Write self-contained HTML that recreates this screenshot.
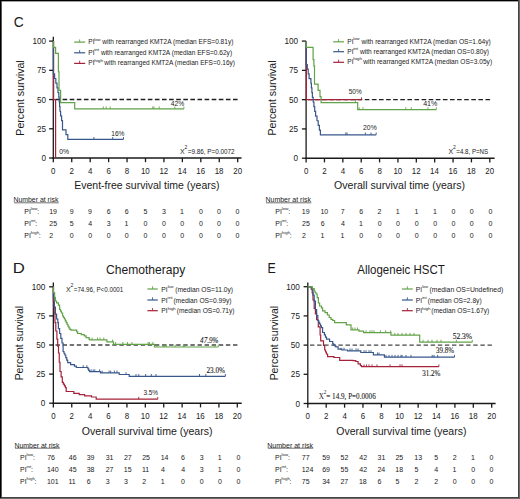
<!DOCTYPE html><html><head><meta charset="utf-8"><style>html,body{margin:0;padding:0;background:#fff;}svg{display:block;}</style></head><body>
<svg width="520" height="499" viewBox="0 0 520 499">
<rect x="0" y="0" width="520" height="499" fill="#fff"/>
<text x="13.70" y="26.75" font-family='"Liberation Sans", sans-serif' font-size="15.40" fill="#1a1a1a" textLength="9.92" lengthAdjust="spacingAndGlyphs" >C</text>
<g transform="rotate(-90)">
<text x="-135.67" y="23.80" font-family='"Liberation Sans", sans-serif' font-size="11.20" fill="#1a1a1a" textLength="75.38" lengthAdjust="spacingAndGlyphs" >Percent survival</text>
</g>
<line x1="53.30" y1="36.80" x2="53.30" y2="158.65" stroke="#1a1a1a" stroke-width="1.3" />
<line x1="52.65" y1="158.00" x2="241.50" y2="158.00" stroke="#1a1a1a" stroke-width="1.5" />
<line x1="49.10" y1="158.00" x2="53.30" y2="158.00" stroke="#1a1a1a" stroke-width="1.3" />
<text x="41.48" y="161.04" font-family='"Liberation Sans", sans-serif' font-size="8.60" fill="#1a1a1a" textLength="4.54" lengthAdjust="spacingAndGlyphs">0</text>
<line x1="49.10" y1="128.78" x2="53.30" y2="128.78" stroke="#1a1a1a" stroke-width="1.3" />
<text x="36.96" y="131.82" font-family='"Liberation Sans", sans-serif' font-size="8.60" fill="#1a1a1a" textLength="9.09" lengthAdjust="spacingAndGlyphs">25</text>
<line x1="49.10" y1="99.55" x2="53.30" y2="99.55" stroke="#1a1a1a" stroke-width="1.3" />
<text x="36.93" y="102.59" font-family='"Liberation Sans", sans-serif' font-size="8.60" fill="#1a1a1a" textLength="9.09" lengthAdjust="spacingAndGlyphs">50</text>
<line x1="49.10" y1="70.33" x2="53.30" y2="70.33" stroke="#1a1a1a" stroke-width="1.3" />
<text x="36.96" y="73.37" font-family='"Liberation Sans", sans-serif' font-size="8.60" fill="#1a1a1a" textLength="9.09" lengthAdjust="spacingAndGlyphs">75</text>
<line x1="49.10" y1="41.10" x2="53.30" y2="41.10" stroke="#1a1a1a" stroke-width="1.3" />
<text x="32.39" y="44.14" font-family='"Liberation Sans", sans-serif' font-size="8.60" fill="#1a1a1a" textLength="13.63" lengthAdjust="spacingAndGlyphs">100</text>
<line x1="53.30" y1="158.00" x2="53.30" y2="162.20" stroke="#1a1a1a" stroke-width="1.3" />
<text x="51.10" y="173.50" font-family='"Liberation Sans", sans-serif' font-size="8.60" fill="#1a1a1a" textLength="4.40" lengthAdjust="spacingAndGlyphs">0</text>
<line x1="71.74" y1="158.00" x2="71.74" y2="162.20" stroke="#1a1a1a" stroke-width="1.3" />
<text x="69.54" y="173.50" font-family='"Liberation Sans", sans-serif' font-size="8.60" fill="#1a1a1a" textLength="4.40" lengthAdjust="spacingAndGlyphs">2</text>
<line x1="90.18" y1="158.00" x2="90.18" y2="162.20" stroke="#1a1a1a" stroke-width="1.3" />
<text x="88.00" y="173.50" font-family='"Liberation Sans", sans-serif' font-size="8.60" fill="#1a1a1a" textLength="4.40" lengthAdjust="spacingAndGlyphs">4</text>
<line x1="108.62" y1="158.00" x2="108.62" y2="162.20" stroke="#1a1a1a" stroke-width="1.3" />
<text x="106.39" y="173.50" font-family='"Liberation Sans", sans-serif' font-size="8.60" fill="#1a1a1a" textLength="4.40" lengthAdjust="spacingAndGlyphs">6</text>
<line x1="127.06" y1="158.00" x2="127.06" y2="162.20" stroke="#1a1a1a" stroke-width="1.3" />
<text x="124.86" y="173.50" font-family='"Liberation Sans", sans-serif' font-size="8.60" fill="#1a1a1a" textLength="4.40" lengthAdjust="spacingAndGlyphs">8</text>
<line x1="145.50" y1="158.00" x2="145.50" y2="162.20" stroke="#1a1a1a" stroke-width="1.3" />
<text x="140.95" y="173.50" font-family='"Liberation Sans", sans-serif' font-size="8.60" fill="#1a1a1a" textLength="8.80" lengthAdjust="spacingAndGlyphs">10</text>
<line x1="163.94" y1="158.00" x2="163.94" y2="162.20" stroke="#1a1a1a" stroke-width="1.3" />
<text x="159.44" y="173.50" font-family='"Liberation Sans", sans-serif' font-size="8.60" fill="#1a1a1a" textLength="8.80" lengthAdjust="spacingAndGlyphs">12</text>
<line x1="182.38" y1="158.00" x2="182.38" y2="162.20" stroke="#1a1a1a" stroke-width="1.3" />
<text x="177.79" y="173.50" font-family='"Liberation Sans", sans-serif' font-size="8.60" fill="#1a1a1a" textLength="8.80" lengthAdjust="spacingAndGlyphs">14</text>
<line x1="200.82" y1="158.00" x2="200.82" y2="162.20" stroke="#1a1a1a" stroke-width="1.3" />
<text x="196.29" y="173.50" font-family='"Liberation Sans", sans-serif' font-size="8.60" fill="#1a1a1a" textLength="8.80" lengthAdjust="spacingAndGlyphs">16</text>
<line x1="219.26" y1="158.00" x2="219.26" y2="162.20" stroke="#1a1a1a" stroke-width="1.3" />
<text x="214.73" y="173.50" font-family='"Liberation Sans", sans-serif' font-size="8.60" fill="#1a1a1a" textLength="8.80" lengthAdjust="spacingAndGlyphs">18</text>
<line x1="237.70" y1="158.00" x2="237.70" y2="162.20" stroke="#1a1a1a" stroke-width="1.3" />
<text x="233.26" y="173.50" font-family='"Liberation Sans", sans-serif' font-size="8.60" fill="#1a1a1a" textLength="8.80" lengthAdjust="spacingAndGlyphs">20</text>
<text x="74.24" y="189.20" font-family='"Liberation Sans", sans-serif' font-size="11.20" fill="#1a1a1a" textLength="145.31" lengthAdjust="spacingAndGlyphs" >Event-free survival time (years)</text>
<line x1="55.50" y1="99.55" x2="238.50" y2="99.55" stroke="#1e1e1e" stroke-width="1.4" stroke-dasharray="4.6 2.5"/>
<polyline points="53.60,41.10 53.60,99.55 55.60,99.55 55.60,158.00" fill="none" stroke="#a6213a" stroke-width="1.2" stroke-linejoin="miter" stroke-linecap="butt"/>
<polyline points="53.40,41.10 53.40,73.83 54.60,73.83 54.60,78.51 55.80,78.51 55.80,83.18 57.00,83.18 57.00,87.86 58.00,87.86 58.00,92.54 58.80,92.54 58.80,97.21 59.20,97.21 59.20,101.89 59.60,101.89 59.60,106.56 60.00,106.56 60.00,111.24 60.60,111.24 60.60,115.92 61.60,115.92 61.60,120.59 62.50,120.59 62.50,129.94 66.00,129.94 66.00,134.62 67.80,134.62 67.80,139.30 123.50,139.30" fill="none" stroke="#38578a" stroke-width="1.2" stroke-linejoin="miter" stroke-linecap="butt"/>
<line x1="93.90" y1="139.30" x2="93.90" y2="137.00" stroke="#38578a" stroke-width="0.9" />
<line x1="112.70" y1="139.30" x2="112.70" y2="137.00" stroke="#38578a" stroke-width="0.9" />
<line x1="123.50" y1="139.30" x2="123.50" y2="137.00" stroke="#38578a" stroke-width="0.9" />
<polyline points="53.50,41.10 53.50,47.30 55.60,47.30 55.60,53.37 58.40,53.37 58.40,71.84 59.00,71.84 59.00,90.31 60.60,90.31 60.60,102.59 74.70,102.59 74.70,108.79 183.90,108.79" fill="none" stroke="#62a248" stroke-width="1.2" stroke-linejoin="miter" stroke-linecap="butt"/>
<line x1="103.30" y1="108.79" x2="103.30" y2="106.49" stroke="#62a248" stroke-width="0.9" />
<line x1="106.20" y1="108.79" x2="106.20" y2="106.49" stroke="#62a248" stroke-width="0.9" />
<line x1="110.20" y1="108.79" x2="110.20" y2="106.49" stroke="#62a248" stroke-width="0.9" />
<line x1="152.80" y1="108.79" x2="152.80" y2="106.49" stroke="#62a248" stroke-width="0.9" />
<line x1="154.00" y1="108.79" x2="154.00" y2="106.49" stroke="#62a248" stroke-width="0.9" />
<line x1="159.20" y1="108.79" x2="159.20" y2="106.49" stroke="#62a248" stroke-width="0.9" />
<line x1="174.80" y1="108.79" x2="174.80" y2="106.49" stroke="#62a248" stroke-width="0.9" />
<line x1="183.90" y1="108.79" x2="183.90" y2="106.49" stroke="#62a248" stroke-width="0.9" />
<text x="170.85" y="105.50" font-family='"Liberation Sans", sans-serif' font-size="7.20" fill="#1a1a1a" textLength="13.39" lengthAdjust="spacingAndGlyphs" >42%</text>
<text x="111.30" y="135.70" font-family='"Liberation Sans", sans-serif' font-size="7.20" fill="#1a1a1a" textLength="13.13" lengthAdjust="spacingAndGlyphs" >16%</text>
<text x="59.33" y="153.50" font-family='"Liberation Sans", sans-serif' font-size="7.20" fill="#1a1a1a" textLength="9.81" lengthAdjust="spacingAndGlyphs" >0%</text>
<text x="179.94" y="154.10" font-family='"Liberation Sans", sans-serif' font-size="7.00" fill="#1a1a1a">X</text>
<text x="184.51" y="149.20" font-family='"Liberation Sans", sans-serif' font-size="5.04" fill="#1a1a1a">2</text>
<text x="187.75" y="154.10" font-family='"Liberation Sans", sans-serif' font-size="7.00" fill="#1a1a1a" textLength="46.87" lengthAdjust="spacingAndGlyphs" >=9.86, P=0.0072</text>
<line x1="74.10" y1="42.10" x2="85.20" y2="42.10" stroke="#62a248" stroke-width="1.2" />
<line x1="79.65" y1="42.10" x2="79.65" y2="39.40" stroke="#62a248" stroke-width="0.9" />
<text x="88.36" y="44.30" font-family='"Liberation Sans", sans-serif' font-size="6.60" fill="#1a1a1a">PI</text>
<text x="94.27" y="40.70" font-family='"Liberation Sans", sans-serif' font-size="4.00" fill="#1a1a1a" textLength="6.27" lengthAdjust="spacingAndGlyphs" >low</text>
<text x="102.31" y="44.30" font-family='"Liberation Sans", sans-serif' font-size="6.60" fill="#1a1a1a" textLength="131.10" lengthAdjust="spacingAndGlyphs" >with rearranged KMT2A (median EFS=0.81y)</text>
<line x1="74.10" y1="52.80" x2="85.20" y2="52.80" stroke="#38578a" stroke-width="1.2" />
<line x1="79.65" y1="52.80" x2="79.65" y2="50.10" stroke="#38578a" stroke-width="0.9" />
<text x="88.36" y="54.85" font-family='"Liberation Sans", sans-serif' font-size="6.60" fill="#1a1a1a">PI</text>
<text x="94.24" y="51.25" font-family='"Liberation Sans", sans-serif' font-size="4.00" fill="#1a1a1a" textLength="4.95" lengthAdjust="spacingAndGlyphs" >int</text>
<text x="100.91" y="54.85" font-family='"Liberation Sans", sans-serif' font-size="6.60" fill="#1a1a1a" textLength="131.20" lengthAdjust="spacingAndGlyphs" >with rearranged KMT2A (median EFS=0.62y)</text>
<line x1="74.10" y1="63.40" x2="85.20" y2="63.40" stroke="#a6213a" stroke-width="1.2" />
<line x1="79.65" y1="63.40" x2="79.65" y2="60.70" stroke="#a6213a" stroke-width="0.9" />
<text x="88.36" y="65.30" font-family='"Liberation Sans", sans-serif' font-size="6.60" fill="#1a1a1a">PI</text>
<text x="94.23" y="61.70" font-family='"Liberation Sans", sans-serif' font-size="4.00" fill="#1a1a1a" textLength="8.83" lengthAdjust="spacingAndGlyphs" >high</text>
<text x="104.31" y="65.30" font-family='"Liberation Sans", sans-serif' font-size="6.60" fill="#1a1a1a" textLength="130.69" lengthAdjust="spacingAndGlyphs" >with rearranged KMT2A (median EFS=0.16y)</text>
<text x="13.43" y="202.10" font-family='"Liberation Sans", sans-serif' font-size="7.00" fill="#1a1a1a" textLength="44.96" lengthAdjust="spacingAndGlyphs" >Number at risk</text>
<line x1="14.00" y1="202.80" x2="58.70" y2="202.80" stroke="#333" stroke-width="0.7" />
<text x="24.23" y="213.80" font-family='"Liberation Sans", sans-serif' font-size="7.00" fill="#1a1a1a">PI</text>
<text x="30.80" y="210.00" font-family='"Liberation Sans", sans-serif' font-size="4.40" fill="#1a1a1a">low</text>
<text x="37.27" y="213.80" font-family='"Liberation Sans", sans-serif' font-size="7.00" fill="#1a1a1a">:</text>
<text x="49.17" y="213.80" font-family='"Liberation Sans", sans-serif' font-size="7.00" fill="#1a1a1a">19</text>
<text x="69.67" y="213.80" font-family='"Liberation Sans", sans-serif' font-size="7.00" fill="#1a1a1a">9</text>
<text x="88.07" y="213.80" font-family='"Liberation Sans", sans-serif' font-size="7.00" fill="#1a1a1a">9</text>
<text x="106.64" y="213.80" font-family='"Liberation Sans", sans-serif' font-size="7.00" fill="#1a1a1a">6</text>
<text x="124.64" y="213.80" font-family='"Liberation Sans", sans-serif' font-size="7.00" fill="#1a1a1a">6</text>
<text x="143.52" y="213.80" font-family='"Liberation Sans", sans-serif' font-size="7.00" fill="#1a1a1a">5</text>
<text x="161.93" y="213.80" font-family='"Liberation Sans", sans-serif' font-size="7.00" fill="#1a1a1a">3</text>
<text x="180.07" y="213.80" font-family='"Liberation Sans", sans-serif' font-size="7.00" fill="#1a1a1a">1</text>
<text x="198.93" y="213.80" font-family='"Liberation Sans", sans-serif' font-size="7.00" fill="#1a1a1a">0</text>
<text x="216.93" y="213.80" font-family='"Liberation Sans", sans-serif' font-size="7.00" fill="#1a1a1a">0</text>
<text x="235.53" y="213.80" font-family='"Liberation Sans", sans-serif' font-size="7.00" fill="#1a1a1a">0</text>
<text x="24.23" y="225.70" font-family='"Liberation Sans", sans-serif' font-size="7.00" fill="#1a1a1a">PI</text>
<text x="30.80" y="221.90" font-family='"Liberation Sans", sans-serif' font-size="4.40" fill="#1a1a1a">int</text>
<text x="35.27" y="225.70" font-family='"Liberation Sans", sans-serif' font-size="7.00" fill="#1a1a1a">:</text>
<text x="49.35" y="225.70" font-family='"Liberation Sans", sans-serif' font-size="7.00" fill="#1a1a1a">25</text>
<text x="69.72" y="225.70" font-family='"Liberation Sans", sans-serif' font-size="7.00" fill="#1a1a1a">5</text>
<text x="88.24" y="225.70" font-family='"Liberation Sans", sans-serif' font-size="7.00" fill="#1a1a1a">4</text>
<text x="106.73" y="225.70" font-family='"Liberation Sans", sans-serif' font-size="7.00" fill="#1a1a1a">3</text>
<text x="124.47" y="225.70" font-family='"Liberation Sans", sans-serif' font-size="7.00" fill="#1a1a1a">1</text>
<text x="143.53" y="225.70" font-family='"Liberation Sans", sans-serif' font-size="7.00" fill="#1a1a1a">0</text>
<text x="161.93" y="225.70" font-family='"Liberation Sans", sans-serif' font-size="7.00" fill="#1a1a1a">0</text>
<text x="180.33" y="225.70" font-family='"Liberation Sans", sans-serif' font-size="7.00" fill="#1a1a1a">0</text>
<text x="198.93" y="225.70" font-family='"Liberation Sans", sans-serif' font-size="7.00" fill="#1a1a1a">0</text>
<text x="216.93" y="225.70" font-family='"Liberation Sans", sans-serif' font-size="7.00" fill="#1a1a1a">0</text>
<text x="235.53" y="225.70" font-family='"Liberation Sans", sans-serif' font-size="7.00" fill="#1a1a1a">0</text>
<text x="24.23" y="238.00" font-family='"Liberation Sans", sans-serif' font-size="7.00" fill="#1a1a1a">PI</text>
<text x="30.79" y="234.20" font-family='"Liberation Sans", sans-serif' font-size="4.40" fill="#1a1a1a">high</text>
<text x="38.68" y="238.00" font-family='"Liberation Sans", sans-serif' font-size="7.00" fill="#1a1a1a">:</text>
<text x="49.35" y="238.00" font-family='"Liberation Sans", sans-serif' font-size="7.00" fill="#1a1a1a">2</text>
<text x="69.73" y="238.00" font-family='"Liberation Sans", sans-serif' font-size="7.00" fill="#1a1a1a">0</text>
<text x="88.13" y="238.00" font-family='"Liberation Sans", sans-serif' font-size="7.00" fill="#1a1a1a">0</text>
<text x="106.73" y="238.00" font-family='"Liberation Sans", sans-serif' font-size="7.00" fill="#1a1a1a">0</text>
<text x="124.73" y="238.00" font-family='"Liberation Sans", sans-serif' font-size="7.00" fill="#1a1a1a">0</text>
<text x="143.53" y="238.00" font-family='"Liberation Sans", sans-serif' font-size="7.00" fill="#1a1a1a">0</text>
<text x="161.93" y="238.00" font-family='"Liberation Sans", sans-serif' font-size="7.00" fill="#1a1a1a">0</text>
<text x="180.33" y="238.00" font-family='"Liberation Sans", sans-serif' font-size="7.00" fill="#1a1a1a">0</text>
<text x="198.93" y="238.00" font-family='"Liberation Sans", sans-serif' font-size="7.00" fill="#1a1a1a">0</text>
<text x="216.93" y="238.00" font-family='"Liberation Sans", sans-serif' font-size="7.00" fill="#1a1a1a">0</text>
<text x="235.53" y="238.00" font-family='"Liberation Sans", sans-serif' font-size="7.00" fill="#1a1a1a">0</text>
<g transform="rotate(-90)">
<text x="-135.46" y="275.80" font-family='"Liberation Sans", sans-serif' font-size="11.20" fill="#1a1a1a" textLength="74.97" lengthAdjust="spacingAndGlyphs" >Percent survival</text>
</g>
<line x1="306.10" y1="41.10" x2="306.10" y2="158.85" stroke="#1a1a1a" stroke-width="1.3" />
<line x1="305.45" y1="158.20" x2="494.60" y2="158.20" stroke="#1a1a1a" stroke-width="1.5" />
<line x1="301.90" y1="158.20" x2="306.10" y2="158.20" stroke="#1a1a1a" stroke-width="1.3" />
<text x="293.58" y="161.24" font-family='"Liberation Sans", sans-serif' font-size="8.60" fill="#1a1a1a" textLength="4.54" lengthAdjust="spacingAndGlyphs">0</text>
<line x1="301.90" y1="128.92" x2="306.10" y2="128.92" stroke="#1a1a1a" stroke-width="1.3" />
<text x="289.06" y="131.97" font-family='"Liberation Sans", sans-serif' font-size="8.60" fill="#1a1a1a" textLength="9.09" lengthAdjust="spacingAndGlyphs">25</text>
<line x1="301.90" y1="99.65" x2="306.10" y2="99.65" stroke="#1a1a1a" stroke-width="1.3" />
<text x="289.03" y="102.69" font-family='"Liberation Sans", sans-serif' font-size="8.60" fill="#1a1a1a" textLength="9.09" lengthAdjust="spacingAndGlyphs">50</text>
<line x1="301.90" y1="70.37" x2="306.10" y2="70.37" stroke="#1a1a1a" stroke-width="1.3" />
<text x="289.06" y="73.42" font-family='"Liberation Sans", sans-serif' font-size="8.60" fill="#1a1a1a" textLength="9.09" lengthAdjust="spacingAndGlyphs">75</text>
<line x1="301.90" y1="41.10" x2="306.10" y2="41.10" stroke="#1a1a1a" stroke-width="1.3" />
<text x="284.49" y="44.14" font-family='"Liberation Sans", sans-serif' font-size="8.60" fill="#1a1a1a" textLength="13.63" lengthAdjust="spacingAndGlyphs">100</text>
<line x1="306.10" y1="158.20" x2="306.10" y2="162.40" stroke="#1a1a1a" stroke-width="1.3" />
<text x="303.90" y="173.50" font-family='"Liberation Sans", sans-serif' font-size="8.60" fill="#1a1a1a" textLength="4.40" lengthAdjust="spacingAndGlyphs">0</text>
<line x1="324.47" y1="158.20" x2="324.47" y2="162.40" stroke="#1a1a1a" stroke-width="1.3" />
<text x="322.27" y="173.50" font-family='"Liberation Sans", sans-serif' font-size="8.60" fill="#1a1a1a" textLength="4.40" lengthAdjust="spacingAndGlyphs">2</text>
<line x1="342.84" y1="158.20" x2="342.84" y2="162.40" stroke="#1a1a1a" stroke-width="1.3" />
<text x="340.66" y="173.50" font-family='"Liberation Sans", sans-serif' font-size="8.60" fill="#1a1a1a" textLength="4.40" lengthAdjust="spacingAndGlyphs">4</text>
<line x1="361.21" y1="158.20" x2="361.21" y2="162.40" stroke="#1a1a1a" stroke-width="1.3" />
<text x="358.98" y="173.50" font-family='"Liberation Sans", sans-serif' font-size="8.60" fill="#1a1a1a" textLength="4.40" lengthAdjust="spacingAndGlyphs">6</text>
<line x1="379.58" y1="158.20" x2="379.58" y2="162.40" stroke="#1a1a1a" stroke-width="1.3" />
<text x="377.38" y="173.50" font-family='"Liberation Sans", sans-serif' font-size="8.60" fill="#1a1a1a" textLength="4.40" lengthAdjust="spacingAndGlyphs">8</text>
<line x1="397.95" y1="158.20" x2="397.95" y2="162.40" stroke="#1a1a1a" stroke-width="1.3" />
<text x="393.40" y="173.50" font-family='"Liberation Sans", sans-serif' font-size="8.60" fill="#1a1a1a" textLength="8.80" lengthAdjust="spacingAndGlyphs">10</text>
<line x1="416.32" y1="158.20" x2="416.32" y2="162.40" stroke="#1a1a1a" stroke-width="1.3" />
<text x="411.82" y="173.50" font-family='"Liberation Sans", sans-serif' font-size="8.60" fill="#1a1a1a" textLength="8.80" lengthAdjust="spacingAndGlyphs">12</text>
<line x1="434.69" y1="158.20" x2="434.69" y2="162.40" stroke="#1a1a1a" stroke-width="1.3" />
<text x="430.10" y="173.50" font-family='"Liberation Sans", sans-serif' font-size="8.60" fill="#1a1a1a" textLength="8.80" lengthAdjust="spacingAndGlyphs">14</text>
<line x1="453.06" y1="158.20" x2="453.06" y2="162.40" stroke="#1a1a1a" stroke-width="1.3" />
<text x="448.53" y="173.50" font-family='"Liberation Sans", sans-serif' font-size="8.60" fill="#1a1a1a" textLength="8.80" lengthAdjust="spacingAndGlyphs">16</text>
<line x1="471.43" y1="158.20" x2="471.43" y2="162.40" stroke="#1a1a1a" stroke-width="1.3" />
<text x="466.90" y="173.50" font-family='"Liberation Sans", sans-serif' font-size="8.60" fill="#1a1a1a" textLength="8.80" lengthAdjust="spacingAndGlyphs">18</text>
<line x1="489.80" y1="158.20" x2="489.80" y2="162.40" stroke="#1a1a1a" stroke-width="1.3" />
<text x="485.36" y="173.50" font-family='"Liberation Sans", sans-serif' font-size="8.60" fill="#1a1a1a" textLength="8.80" lengthAdjust="spacingAndGlyphs">20</text>
<text x="334.10" y="188.90" font-family='"Liberation Sans", sans-serif' font-size="11.20" fill="#1a1a1a" textLength="130.96" lengthAdjust="spacingAndGlyphs" >Overall survival time (years)</text>
<line x1="308.00" y1="99.65" x2="490.50" y2="99.65" stroke="#1e1e1e" stroke-width="1.4" stroke-dasharray="4.6 2.5"/>
<polyline points="306.40,41.10 306.40,99.65 361.50,99.65" fill="none" stroke="#a6213a" stroke-width="1.2" stroke-linejoin="miter" stroke-linecap="butt"/>
<line x1="361.50" y1="99.65" x2="361.50" y2="97.35" stroke="#a6213a" stroke-width="0.9" />
<polyline points="306.20,41.10 306.20,64.52 307.30,64.52 307.30,69.20 308.20,69.20 308.20,73.89 309.10,73.89 309.10,78.57 310.90,78.57 310.90,83.26 311.40,83.26 311.40,87.94 311.90,87.94 311.90,92.62 312.40,92.62 312.40,97.31 313.20,97.31 313.20,101.99 313.90,101.99 313.90,106.68 314.70,106.68 314.70,111.36 315.60,111.36 315.60,116.04 317.00,116.04 317.00,120.73 318.20,120.73 318.20,125.41 319.40,125.41 319.40,130.10 320.40,130.10 320.40,134.78 376.20,134.78" fill="none" stroke="#38578a" stroke-width="1.2" stroke-linejoin="miter" stroke-linecap="butt"/>
<line x1="345.80" y1="134.78" x2="345.80" y2="132.48" stroke="#38578a" stroke-width="0.9" />
<line x1="347.00" y1="134.78" x2="347.00" y2="132.48" stroke="#38578a" stroke-width="0.9" />
<line x1="365.40" y1="134.78" x2="365.40" y2="132.48" stroke="#38578a" stroke-width="0.9" />
<line x1="371.00" y1="134.78" x2="371.00" y2="132.48" stroke="#38578a" stroke-width="0.9" />
<line x1="376.20" y1="134.78" x2="376.20" y2="132.48" stroke="#38578a" stroke-width="0.9" />
<polyline points="306.20,41.10 306.20,47.31 313.10,47.31 313.10,59.60 313.90,59.60 313.90,65.81 314.50,65.81 314.50,84.19 318.10,84.19 318.10,90.40 320.00,90.40 320.00,96.61 321.10,96.61 321.10,102.69 357.70,102.69 357.70,109.60 436.30,109.60" fill="none" stroke="#62a248" stroke-width="1.2" stroke-linejoin="miter" stroke-linecap="butt"/>
<line x1="355.40" y1="102.69" x2="355.40" y2="100.39" stroke="#62a248" stroke-width="0.9" />
<line x1="359.20" y1="109.60" x2="359.20" y2="107.30" stroke="#62a248" stroke-width="0.9" />
<line x1="363.00" y1="109.60" x2="363.00" y2="107.30" stroke="#62a248" stroke-width="0.9" />
<line x1="405.80" y1="109.60" x2="405.80" y2="107.30" stroke="#62a248" stroke-width="0.9" />
<line x1="411.30" y1="109.60" x2="411.30" y2="107.30" stroke="#62a248" stroke-width="0.9" />
<line x1="428.00" y1="109.60" x2="428.00" y2="107.30" stroke="#62a248" stroke-width="0.9" />
<line x1="436.30" y1="109.60" x2="436.30" y2="107.30" stroke="#62a248" stroke-width="0.9" />
<text x="348.74" y="93.80" font-family='"Liberation Sans", sans-serif' font-size="7.20" fill="#1a1a1a" textLength="12.99" lengthAdjust="spacingAndGlyphs" >50%</text>
<text x="363.06" y="130.30" font-family='"Liberation Sans", sans-serif' font-size="7.20" fill="#1a1a1a" textLength="13.69" lengthAdjust="spacingAndGlyphs" >20%</text>
<text x="423.14" y="106.40" font-family='"Liberation Sans", sans-serif' font-size="7.20" fill="#1a1a1a" textLength="14.11" lengthAdjust="spacingAndGlyphs" >41%</text>
<text x="448.54" y="153.90" font-family='"Liberation Sans", sans-serif' font-size="7.00" fill="#1a1a1a">X</text>
<text x="453.11" y="149.00" font-family='"Liberation Sans", sans-serif' font-size="5.04" fill="#1a1a1a">2</text>
<text x="456.36" y="153.90" font-family='"Liberation Sans", sans-serif' font-size="7.00" fill="#1a1a1a" textLength="31.82" lengthAdjust="spacingAndGlyphs" >=4.8, P=NS</text>
<line x1="333.20" y1="41.80" x2="344.00" y2="41.80" stroke="#62a248" stroke-width="1.2" />
<line x1="338.60" y1="41.80" x2="338.60" y2="39.10" stroke="#62a248" stroke-width="0.9" />
<text x="347.36" y="43.80" font-family='"Liberation Sans", sans-serif' font-size="6.60" fill="#1a1a1a">PI</text>
<text x="353.27" y="40.20" font-family='"Liberation Sans", sans-serif' font-size="4.00" fill="#1a1a1a" textLength="6.27" lengthAdjust="spacingAndGlyphs" >low</text>
<text x="361.51" y="43.80" font-family='"Liberation Sans", sans-serif' font-size="6.60" fill="#1a1a1a" textLength="129.30" lengthAdjust="spacingAndGlyphs" >with rearranged KMT2A (median OS=1.64y)</text>
<line x1="333.20" y1="51.70" x2="344.00" y2="51.70" stroke="#38578a" stroke-width="1.2" />
<line x1="338.60" y1="51.70" x2="338.60" y2="49.00" stroke="#38578a" stroke-width="0.9" />
<text x="347.36" y="53.80" font-family='"Liberation Sans", sans-serif' font-size="6.60" fill="#1a1a1a">PI</text>
<text x="353.24" y="50.20" font-family='"Liberation Sans", sans-serif' font-size="4.00" fill="#1a1a1a" textLength="4.95" lengthAdjust="spacingAndGlyphs" >int</text>
<text x="359.91" y="53.80" font-family='"Liberation Sans", sans-serif' font-size="6.60" fill="#1a1a1a" textLength="129.00" lengthAdjust="spacingAndGlyphs" >with rearranged KMT2A (median OS=0.80y)</text>
<line x1="333.20" y1="62.30" x2="344.00" y2="62.30" stroke="#a6213a" stroke-width="1.2" />
<line x1="338.60" y1="62.30" x2="338.60" y2="59.60" stroke="#a6213a" stroke-width="0.9" />
<text x="347.36" y="63.90" font-family='"Liberation Sans", sans-serif' font-size="6.60" fill="#1a1a1a">PI</text>
<text x="353.23" y="60.30" font-family='"Liberation Sans", sans-serif' font-size="4.00" fill="#1a1a1a" textLength="8.83" lengthAdjust="spacingAndGlyphs" >high</text>
<text x="363.31" y="63.90" font-family='"Liberation Sans", sans-serif' font-size="6.60" fill="#1a1a1a" textLength="128.80" lengthAdjust="spacingAndGlyphs" >with rearranged KMT2A (median OS=3.05y)</text>
<text x="265.43" y="202.10" font-family='"Liberation Sans", sans-serif' font-size="7.00" fill="#1a1a1a" textLength="45.56" lengthAdjust="spacingAndGlyphs" >Number at risk</text>
<line x1="266.00" y1="202.80" x2="311.30" y2="202.80" stroke="#333" stroke-width="0.7" />
<text x="275.23" y="213.80" font-family='"Liberation Sans", sans-serif' font-size="7.00" fill="#1a1a1a">PI</text>
<text x="281.80" y="210.00" font-family='"Liberation Sans", sans-serif' font-size="4.40" fill="#1a1a1a">low</text>
<text x="288.27" y="213.80" font-family='"Liberation Sans", sans-serif' font-size="7.00" fill="#1a1a1a">:</text>
<text x="301.87" y="213.80" font-family='"Liberation Sans", sans-serif' font-size="7.00" fill="#1a1a1a">19</text>
<text x="320.47" y="213.80" font-family='"Liberation Sans", sans-serif' font-size="7.00" fill="#1a1a1a">10</text>
<text x="340.74" y="213.80" font-family='"Liberation Sans", sans-serif' font-size="7.00" fill="#1a1a1a">7</text>
<text x="359.14" y="213.80" font-family='"Liberation Sans", sans-serif' font-size="7.00" fill="#1a1a1a">6</text>
<text x="377.55" y="213.80" font-family='"Liberation Sans", sans-serif' font-size="7.00" fill="#1a1a1a">2</text>
<text x="395.77" y="213.80" font-family='"Liberation Sans", sans-serif' font-size="7.00" fill="#1a1a1a">1</text>
<text x="414.57" y="213.80" font-family='"Liberation Sans", sans-serif' font-size="7.00" fill="#1a1a1a">1</text>
<text x="432.97" y="213.80" font-family='"Liberation Sans", sans-serif' font-size="7.00" fill="#1a1a1a">1</text>
<text x="451.43" y="213.80" font-family='"Liberation Sans", sans-serif' font-size="7.00" fill="#1a1a1a">0</text>
<text x="469.83" y="213.80" font-family='"Liberation Sans", sans-serif' font-size="7.00" fill="#1a1a1a">0</text>
<text x="488.43" y="213.80" font-family='"Liberation Sans", sans-serif' font-size="7.00" fill="#1a1a1a">0</text>
<text x="275.23" y="225.70" font-family='"Liberation Sans", sans-serif' font-size="7.00" fill="#1a1a1a">PI</text>
<text x="281.80" y="221.90" font-family='"Liberation Sans", sans-serif' font-size="4.40" fill="#1a1a1a">int</text>
<text x="286.27" y="225.70" font-family='"Liberation Sans", sans-serif' font-size="7.00" fill="#1a1a1a">:</text>
<text x="302.05" y="225.70" font-family='"Liberation Sans", sans-serif' font-size="7.00" fill="#1a1a1a">25</text>
<text x="320.64" y="225.70" font-family='"Liberation Sans", sans-serif' font-size="7.00" fill="#1a1a1a">6</text>
<text x="340.94" y="225.70" font-family='"Liberation Sans", sans-serif' font-size="7.00" fill="#1a1a1a">4</text>
<text x="358.97" y="225.70" font-family='"Liberation Sans", sans-serif' font-size="7.00" fill="#1a1a1a">1</text>
<text x="377.63" y="225.70" font-family='"Liberation Sans", sans-serif' font-size="7.00" fill="#1a1a1a">0</text>
<text x="396.03" y="225.70" font-family='"Liberation Sans", sans-serif' font-size="7.00" fill="#1a1a1a">0</text>
<text x="414.83" y="225.70" font-family='"Liberation Sans", sans-serif' font-size="7.00" fill="#1a1a1a">0</text>
<text x="433.23" y="225.70" font-family='"Liberation Sans", sans-serif' font-size="7.00" fill="#1a1a1a">0</text>
<text x="451.43" y="225.70" font-family='"Liberation Sans", sans-serif' font-size="7.00" fill="#1a1a1a">0</text>
<text x="469.83" y="225.70" font-family='"Liberation Sans", sans-serif' font-size="7.00" fill="#1a1a1a">0</text>
<text x="488.43" y="225.70" font-family='"Liberation Sans", sans-serif' font-size="7.00" fill="#1a1a1a">0</text>
<text x="275.23" y="238.00" font-family='"Liberation Sans", sans-serif' font-size="7.00" fill="#1a1a1a">PI</text>
<text x="281.79" y="234.20" font-family='"Liberation Sans", sans-serif' font-size="4.40" fill="#1a1a1a">high</text>
<text x="289.68" y="238.00" font-family='"Liberation Sans", sans-serif' font-size="7.00" fill="#1a1a1a">:</text>
<text x="302.05" y="238.00" font-family='"Liberation Sans", sans-serif' font-size="7.00" fill="#1a1a1a">2</text>
<text x="320.47" y="238.00" font-family='"Liberation Sans", sans-serif' font-size="7.00" fill="#1a1a1a">1</text>
<text x="340.57" y="238.00" font-family='"Liberation Sans", sans-serif' font-size="7.00" fill="#1a1a1a">1</text>
<text x="359.23" y="238.00" font-family='"Liberation Sans", sans-serif' font-size="7.00" fill="#1a1a1a">0</text>
<text x="377.63" y="238.00" font-family='"Liberation Sans", sans-serif' font-size="7.00" fill="#1a1a1a">0</text>
<text x="396.03" y="238.00" font-family='"Liberation Sans", sans-serif' font-size="7.00" fill="#1a1a1a">0</text>
<text x="414.83" y="238.00" font-family='"Liberation Sans", sans-serif' font-size="7.00" fill="#1a1a1a">0</text>
<text x="433.23" y="238.00" font-family='"Liberation Sans", sans-serif' font-size="7.00" fill="#1a1a1a">0</text>
<text x="451.43" y="238.00" font-family='"Liberation Sans", sans-serif' font-size="7.00" fill="#1a1a1a">0</text>
<text x="469.83" y="238.00" font-family='"Liberation Sans", sans-serif' font-size="7.00" fill="#1a1a1a">0</text>
<text x="488.43" y="238.00" font-family='"Liberation Sans", sans-serif' font-size="7.00" fill="#1a1a1a">0</text>
<text x="12.73" y="273.20" font-family='"Liberation Sans", sans-serif' font-size="14.70" fill="#1a1a1a" textLength="12.07" lengthAdjust="spacingAndGlyphs" >D</text>
<text x="106.09" y="273.80" font-family='"Liberation Sans", sans-serif' font-size="12.20" fill="#1a1a1a" textLength="79.14" lengthAdjust="spacingAndGlyphs" >Chemotherapy</text>
<g transform="rotate(-90)">
<text x="-380.36" y="23.00" font-family='"Liberation Sans", sans-serif' font-size="11.20" fill="#1a1a1a" textLength="74.46" lengthAdjust="spacingAndGlyphs" >Percent survival</text>
</g>
<line x1="53.35" y1="282.50" x2="53.35" y2="403.85" stroke="#1a1a1a" stroke-width="1.3" />
<line x1="52.70" y1="403.20" x2="241.70" y2="403.20" stroke="#1a1a1a" stroke-width="1.5" />
<line x1="49.15" y1="403.20" x2="53.35" y2="403.20" stroke="#1a1a1a" stroke-width="1.3" />
<text x="40.78" y="406.24" font-family='"Liberation Sans", sans-serif' font-size="8.60" fill="#1a1a1a" textLength="4.54" lengthAdjust="spacingAndGlyphs">0</text>
<line x1="49.15" y1="374.10" x2="53.35" y2="374.10" stroke="#1a1a1a" stroke-width="1.3" />
<text x="36.26" y="377.14" font-family='"Liberation Sans", sans-serif' font-size="8.60" fill="#1a1a1a" textLength="9.09" lengthAdjust="spacingAndGlyphs">25</text>
<line x1="49.15" y1="345.00" x2="53.35" y2="345.00" stroke="#1a1a1a" stroke-width="1.3" />
<text x="36.23" y="348.04" font-family='"Liberation Sans", sans-serif' font-size="8.60" fill="#1a1a1a" textLength="9.09" lengthAdjust="spacingAndGlyphs">50</text>
<line x1="49.15" y1="315.90" x2="53.35" y2="315.90" stroke="#1a1a1a" stroke-width="1.3" />
<text x="36.26" y="318.94" font-family='"Liberation Sans", sans-serif' font-size="8.60" fill="#1a1a1a" textLength="9.09" lengthAdjust="spacingAndGlyphs">75</text>
<line x1="49.15" y1="286.80" x2="53.35" y2="286.80" stroke="#1a1a1a" stroke-width="1.3" />
<text x="31.69" y="289.84" font-family='"Liberation Sans", sans-serif' font-size="8.60" fill="#1a1a1a" textLength="13.63" lengthAdjust="spacingAndGlyphs">100</text>
<line x1="53.35" y1="403.20" x2="53.35" y2="407.40" stroke="#1a1a1a" stroke-width="1.3" />
<text x="51.15" y="419.00" font-family='"Liberation Sans", sans-serif' font-size="8.60" fill="#1a1a1a" textLength="4.40" lengthAdjust="spacingAndGlyphs">0</text>
<line x1="71.75" y1="403.20" x2="71.75" y2="407.40" stroke="#1a1a1a" stroke-width="1.3" />
<text x="69.54" y="419.00" font-family='"Liberation Sans", sans-serif' font-size="8.60" fill="#1a1a1a" textLength="4.40" lengthAdjust="spacingAndGlyphs">2</text>
<line x1="90.14" y1="403.20" x2="90.14" y2="407.40" stroke="#1a1a1a" stroke-width="1.3" />
<text x="87.96" y="419.00" font-family='"Liberation Sans", sans-serif' font-size="8.60" fill="#1a1a1a" textLength="4.40" lengthAdjust="spacingAndGlyphs">4</text>
<line x1="108.53" y1="403.20" x2="108.53" y2="407.40" stroke="#1a1a1a" stroke-width="1.3" />
<text x="106.31" y="419.00" font-family='"Liberation Sans", sans-serif' font-size="8.60" fill="#1a1a1a" textLength="4.40" lengthAdjust="spacingAndGlyphs">6</text>
<line x1="126.93" y1="403.20" x2="126.93" y2="407.40" stroke="#1a1a1a" stroke-width="1.3" />
<text x="124.73" y="419.00" font-family='"Liberation Sans", sans-serif' font-size="8.60" fill="#1a1a1a" textLength="4.40" lengthAdjust="spacingAndGlyphs">8</text>
<line x1="145.33" y1="403.20" x2="145.33" y2="407.40" stroke="#1a1a1a" stroke-width="1.3" />
<text x="140.78" y="419.00" font-family='"Liberation Sans", sans-serif' font-size="8.60" fill="#1a1a1a" textLength="8.80" lengthAdjust="spacingAndGlyphs">10</text>
<line x1="163.72" y1="403.20" x2="163.72" y2="407.40" stroke="#1a1a1a" stroke-width="1.3" />
<text x="159.22" y="419.00" font-family='"Liberation Sans", sans-serif' font-size="8.60" fill="#1a1a1a" textLength="8.80" lengthAdjust="spacingAndGlyphs">12</text>
<line x1="182.12" y1="403.20" x2="182.12" y2="407.40" stroke="#1a1a1a" stroke-width="1.3" />
<text x="177.53" y="419.00" font-family='"Liberation Sans", sans-serif' font-size="8.60" fill="#1a1a1a" textLength="8.80" lengthAdjust="spacingAndGlyphs">14</text>
<line x1="200.51" y1="403.20" x2="200.51" y2="407.40" stroke="#1a1a1a" stroke-width="1.3" />
<text x="195.98" y="419.00" font-family='"Liberation Sans", sans-serif' font-size="8.60" fill="#1a1a1a" textLength="8.80" lengthAdjust="spacingAndGlyphs">16</text>
<line x1="218.91" y1="403.20" x2="218.91" y2="407.40" stroke="#1a1a1a" stroke-width="1.3" />
<text x="214.38" y="419.00" font-family='"Liberation Sans", sans-serif' font-size="8.60" fill="#1a1a1a" textLength="8.80" lengthAdjust="spacingAndGlyphs">18</text>
<line x1="237.30" y1="403.20" x2="237.30" y2="407.40" stroke="#1a1a1a" stroke-width="1.3" />
<text x="232.86" y="419.00" font-family='"Liberation Sans", sans-serif' font-size="8.60" fill="#1a1a1a" textLength="8.80" lengthAdjust="spacingAndGlyphs">20</text>
<text x="81.80" y="435.20" font-family='"Liberation Sans", sans-serif' font-size="11.50" fill="#1a1a1a" textLength="130.75" lengthAdjust="spacingAndGlyphs" >Overall survival time (years)</text>
<line x1="55.50" y1="345.00" x2="238.00" y2="345.00" stroke="#474747" stroke-width="1.4" stroke-dasharray="4.4 2.7"/>
<polyline points="53.40,286.80 53.40,286.80 53.40,301.00 54.20,301.00 54.20,313.00 55.00,313.00 55.00,322.70 55.80,322.70 55.80,331.00 56.90,331.00 56.90,339.20 57.70,339.20 57.70,346.10 58.50,346.10 58.50,353.00 59.25,353.00 59.25,362.25 60.00,362.25 60.00,371.50 61.15,371.50 61.15,376.90 62.30,376.90 62.30,382.30 63.33,382.30 63.33,384.10 64.37,384.10 64.37,385.90 65.40,385.90 65.40,387.70 66.20,387.70 66.20,391.50 73.10,391.50 73.80,391.50 73.80,393.40 78.50,393.40 79.20,393.40 79.20,394.60 83.80,394.60 84.60,394.60 84.60,395.80 90.00,395.80 91.50,395.80 91.50,397.00 95.40,397.00 96.20,397.00 96.20,399.20 157.80,399.20" fill="none" stroke="#a6213a" stroke-width="1.2" stroke-linejoin="miter" stroke-linecap="butt"/>
<line x1="138.70" y1="399.20" x2="138.70" y2="396.90" stroke="#a6213a" stroke-width="0.9" />
<line x1="157.80" y1="399.20" x2="157.80" y2="396.90" stroke="#a6213a" stroke-width="0.9" />
<polyline points="53.40,286.80 53.40,286.80 53.40,297.40 54.20,297.40 54.20,307.00 55.40,307.00 55.40,314.20 56.60,314.20 56.60,319.00 57.80,319.00 57.80,322.70 58.40,322.70 58.40,328.70 59.60,328.70 59.60,333.50 60.80,333.50 60.80,338.30 62.00,338.30 62.00,343.00 63.10,343.00 63.10,351.50 63.95,351.50 63.95,353.25 64.80,353.25 64.80,355.00 65.77,355.00 65.77,357.57 66.73,357.57 66.73,360.13 67.70,360.13 67.70,362.70 70.60,362.70 70.60,364.60 74.40,364.60 74.40,366.20 76.30,366.20 76.30,367.50 86.90,367.50 87.90,367.50 87.90,368.90 88.70,368.90 88.70,370.30 89.50,370.30 89.50,371.70 100.40,371.70 100.60,371.70 100.60,372.90 118.80,372.90 119.20,372.90 119.20,374.50 129.20,374.50 129.20,374.50 129.20,376.30 225.40,376.30" fill="none" stroke="#38578a" stroke-width="1.2" stroke-linejoin="miter" stroke-linecap="butt"/>
<line x1="83.20" y1="367.50" x2="83.20" y2="365.20" stroke="#38578a" stroke-width="0.9" />
<line x1="86.90" y1="367.50" x2="86.90" y2="365.20" stroke="#38578a" stroke-width="0.9" />
<line x1="91.10" y1="371.70" x2="91.10" y2="369.40" stroke="#38578a" stroke-width="0.9" />
<line x1="93.20" y1="371.70" x2="93.20" y2="369.40" stroke="#38578a" stroke-width="0.9" />
<line x1="94.80" y1="371.70" x2="94.80" y2="369.40" stroke="#38578a" stroke-width="0.9" />
<line x1="99.60" y1="371.70" x2="99.60" y2="369.40" stroke="#38578a" stroke-width="0.9" />
<line x1="102.20" y1="372.90" x2="102.20" y2="370.60" stroke="#38578a" stroke-width="0.9" />
<line x1="109.10" y1="372.90" x2="109.10" y2="370.60" stroke="#38578a" stroke-width="0.9" />
<line x1="110.70" y1="372.90" x2="110.70" y2="370.60" stroke="#38578a" stroke-width="0.9" />
<line x1="114.40" y1="372.90" x2="114.40" y2="370.60" stroke="#38578a" stroke-width="0.9" />
<line x1="117.00" y1="372.90" x2="117.00" y2="370.60" stroke="#38578a" stroke-width="0.9" />
<line x1="126.00" y1="374.50" x2="126.00" y2="372.20" stroke="#38578a" stroke-width="0.9" />
<line x1="136.00" y1="376.30" x2="136.00" y2="374.00" stroke="#38578a" stroke-width="0.9" />
<line x1="138.80" y1="376.30" x2="138.80" y2="374.00" stroke="#38578a" stroke-width="0.9" />
<line x1="145.60" y1="376.30" x2="145.60" y2="374.00" stroke="#38578a" stroke-width="0.9" />
<line x1="151.30" y1="376.30" x2="151.30" y2="374.00" stroke="#38578a" stroke-width="0.9" />
<line x1="156.00" y1="376.30" x2="156.00" y2="374.00" stroke="#38578a" stroke-width="0.9" />
<line x1="199.50" y1="376.30" x2="199.50" y2="374.00" stroke="#38578a" stroke-width="0.9" />
<line x1="205.80" y1="376.30" x2="205.80" y2="374.00" stroke="#38578a" stroke-width="0.9" />
<line x1="225.40" y1="376.30" x2="225.40" y2="374.00" stroke="#38578a" stroke-width="0.9" />
<polyline points="53.40,286.80 53.60,286.80 53.60,292.60 54.60,292.60 54.60,297.40 55.40,297.40 55.40,301.00 56.60,301.00 56.60,302.80 58.40,302.80 58.40,305.20 59.60,305.20 59.60,309.40 60.50,309.40 60.50,311.20 61.40,311.20 61.40,313.00 62.60,313.00 62.60,316.00 63.50,316.00 63.50,317.50 64.40,317.50 64.40,319.00 65.30,319.00 65.30,320.85 66.20,320.85 66.20,322.70 67.10,322.70 67.10,324.50 68.00,324.50 68.00,326.30 68.90,326.30 68.90,327.80 69.80,327.80 69.80,329.30 71.00,329.30 71.00,330.20 75.80,330.20 76.70,330.20 76.70,331.85 77.60,331.85 77.60,333.50 81.30,333.50 81.30,334.70 84.30,334.70 84.30,335.90 86.10,335.90 86.10,337.70 89.10,337.70 89.10,339.30 89.70,339.30 89.70,339.80 106.90,339.80 106.90,339.80 106.90,341.90 113.50,341.90 113.50,341.90 113.50,344.30 154.40,344.30 154.40,344.30 154.40,347.00 218.30,347.00" fill="none" stroke="#62a248" stroke-width="1.2" stroke-linejoin="miter" stroke-linecap="butt"/>
<line x1="92.00" y1="339.80" x2="92.00" y2="337.50" stroke="#62a248" stroke-width="0.9" />
<line x1="97.50" y1="339.80" x2="97.50" y2="337.50" stroke="#62a248" stroke-width="0.9" />
<line x1="100.00" y1="339.80" x2="100.00" y2="337.50" stroke="#62a248" stroke-width="0.9" />
<line x1="103.80" y1="339.80" x2="103.80" y2="337.50" stroke="#62a248" stroke-width="0.9" />
<line x1="112.50" y1="341.90" x2="112.50" y2="339.60" stroke="#62a248" stroke-width="0.9" />
<line x1="115.60" y1="344.30" x2="115.60" y2="342.00" stroke="#62a248" stroke-width="0.9" />
<line x1="122.80" y1="344.30" x2="122.80" y2="342.00" stroke="#62a248" stroke-width="0.9" />
<line x1="127.50" y1="344.30" x2="127.50" y2="342.00" stroke="#62a248" stroke-width="0.9" />
<line x1="131.90" y1="344.30" x2="131.90" y2="342.00" stroke="#62a248" stroke-width="0.9" />
<line x1="148.10" y1="344.30" x2="148.10" y2="342.00" stroke="#62a248" stroke-width="0.9" />
<line x1="149.40" y1="344.30" x2="149.40" y2="342.00" stroke="#62a248" stroke-width="0.9" />
<line x1="152.80" y1="344.30" x2="152.80" y2="342.00" stroke="#62a248" stroke-width="0.9" />
<line x1="157.00" y1="347.00" x2="157.00" y2="344.70" stroke="#62a248" stroke-width="0.9" />
<line x1="163.10" y1="347.00" x2="163.10" y2="344.70" stroke="#62a248" stroke-width="0.9" />
<line x1="164.40" y1="347.00" x2="164.40" y2="344.70" stroke="#62a248" stroke-width="0.9" />
<line x1="166.40" y1="347.00" x2="166.40" y2="344.70" stroke="#62a248" stroke-width="0.9" />
<line x1="175.20" y1="347.00" x2="175.20" y2="344.70" stroke="#62a248" stroke-width="0.9" />
<line x1="183.30" y1="347.00" x2="183.30" y2="344.70" stroke="#62a248" stroke-width="0.9" />
<line x1="184.60" y1="347.00" x2="184.60" y2="344.70" stroke="#62a248" stroke-width="0.9" />
<line x1="214.90" y1="347.00" x2="214.90" y2="344.70" stroke="#62a248" stroke-width="0.9" />
<line x1="218.30" y1="347.00" x2="218.30" y2="344.70" stroke="#62a248" stroke-width="0.9" />
<text x="200.08" y="342.50" font-family='"Liberation Serif", serif' font-size="7.80" fill="#1a1a1a" textLength="18.42" lengthAdjust="spacingAndGlyphs"  font-style="italic" stroke="#1a1a1a" stroke-width="0.1">47.9%</text>
<text x="206.48" y="372.70" font-family='"Liberation Serif", serif' font-size="7.80" fill="#1a1a1a" textLength="18.66" lengthAdjust="spacingAndGlyphs"  stroke="#1a1a1a" stroke-width="0.1">23.0%</text>
<text x="143.46" y="394.80" font-family='"Liberation Sans", sans-serif' font-size="7.00" fill="#1a1a1a" textLength="14.57" lengthAdjust="spacingAndGlyphs" >3.5%</text>
<text x="65.94" y="292.00" font-family='"Liberation Sans", sans-serif' font-size="7.00" fill="#1a1a1a">X</text>
<text x="70.51" y="287.10" font-family='"Liberation Sans", sans-serif' font-size="5.04" fill="#1a1a1a">2</text>
<text x="73.76" y="292.00" font-family='"Liberation Sans", sans-serif' font-size="7.00" fill="#1a1a1a" textLength="49.55" lengthAdjust="spacingAndGlyphs" >=74.96, P<0.0001</text>
<line x1="147.40" y1="289.00" x2="157.80" y2="289.00" stroke="#62a248" stroke-width="1.2" />
<line x1="152.60" y1="289.00" x2="152.60" y2="286.30" stroke="#62a248" stroke-width="0.9" />
<text x="161.25" y="291.60" font-family='"Liberation Sans", sans-serif' font-size="6.70" fill="#1a1a1a">PI</text>
<text x="167.69" y="288.00" font-family='"Liberation Sans", sans-serif' font-size="4.00" fill="#1a1a1a" textLength="5.75" lengthAdjust="spacingAndGlyphs" >low</text>
<text x="175.19" y="291.60" font-family='"Liberation Sans", sans-serif' font-size="6.70" fill="#1a1a1a" textLength="57.93" lengthAdjust="spacingAndGlyphs" >(median OS=11.0y)</text>
<line x1="147.40" y1="300.00" x2="157.80" y2="300.00" stroke="#38578a" stroke-width="1.2" />
<line x1="152.60" y1="300.00" x2="152.60" y2="297.30" stroke="#38578a" stroke-width="0.9" />
<text x="161.25" y="302.50" font-family='"Liberation Sans", sans-serif' font-size="6.70" fill="#1a1a1a">PI</text>
<text x="167.64" y="298.90" font-family='"Liberation Sans", sans-serif' font-size="4.00" fill="#1a1a1a" textLength="4.95" lengthAdjust="spacingAndGlyphs" >int</text>
<text x="173.38" y="302.50" font-family='"Liberation Sans", sans-serif' font-size="6.70" fill="#1a1a1a" textLength="58.23" lengthAdjust="spacingAndGlyphs" >(median OS=0.99y)</text>
<line x1="147.40" y1="310.70" x2="157.80" y2="310.70" stroke="#a6213a" stroke-width="1.2" />
<line x1="152.60" y1="310.70" x2="152.60" y2="308.00" stroke="#a6213a" stroke-width="0.9" />
<text x="161.25" y="313.30" font-family='"Liberation Sans", sans-serif' font-size="6.70" fill="#1a1a1a">PI</text>
<text x="167.65" y="309.70" font-family='"Liberation Sans", sans-serif' font-size="4.00" fill="#1a1a1a" textLength="8.07" lengthAdjust="spacingAndGlyphs" >high</text>
<text x="176.79" y="313.30" font-family='"Liberation Sans", sans-serif' font-size="6.70" fill="#1a1a1a" textLength="57.82" lengthAdjust="spacingAndGlyphs" >(median OS=0.71y)</text>
<text x="14.43" y="447.50" font-family='"Liberation Sans", sans-serif' font-size="7.00" fill="#1a1a1a" textLength="45.06" lengthAdjust="spacingAndGlyphs" >Number at risk</text>
<line x1="15.00" y1="448.20" x2="59.80" y2="448.20" stroke="#333" stroke-width="0.7" />
<text x="20.03" y="459.60" font-family='"Liberation Sans", sans-serif' font-size="7.00" fill="#1a1a1a">PI</text>
<text x="26.60" y="455.80" font-family='"Liberation Sans", sans-serif' font-size="4.40" fill="#1a1a1a">low</text>
<text x="33.07" y="459.60" font-family='"Liberation Sans", sans-serif' font-size="7.00" fill="#1a1a1a">:</text>
<text x="47.14" y="459.60" font-family='"Liberation Sans", sans-serif' font-size="7.00" fill="#1a1a1a">76</text>
<text x="68.84" y="459.60" font-family='"Liberation Sans", sans-serif' font-size="7.00" fill="#1a1a1a">46</text>
<text x="86.73" y="459.60" font-family='"Liberation Sans", sans-serif' font-size="7.00" fill="#1a1a1a">39</text>
<text x="105.73" y="459.60" font-family='"Liberation Sans", sans-serif' font-size="7.00" fill="#1a1a1a">31</text>
<text x="123.95" y="459.60" font-family='"Liberation Sans", sans-serif' font-size="7.00" fill="#1a1a1a">27</text>
<text x="142.15" y="459.60" font-family='"Liberation Sans", sans-serif' font-size="7.00" fill="#1a1a1a">25</text>
<text x="160.67" y="459.60" font-family='"Liberation Sans", sans-serif' font-size="7.00" fill="#1a1a1a">14</text>
<text x="180.94" y="459.60" font-family='"Liberation Sans", sans-serif' font-size="7.00" fill="#1a1a1a">6</text>
<text x="199.63" y="459.60" font-family='"Liberation Sans", sans-serif' font-size="7.00" fill="#1a1a1a">3</text>
<text x="217.77" y="459.60" font-family='"Liberation Sans", sans-serif' font-size="7.00" fill="#1a1a1a">1</text>
<text x="236.43" y="459.60" font-family='"Liberation Sans", sans-serif' font-size="7.00" fill="#1a1a1a">0</text>
<text x="20.03" y="471.50" font-family='"Liberation Sans", sans-serif' font-size="7.00" fill="#1a1a1a">PI</text>
<text x="26.60" y="467.70" font-family='"Liberation Sans", sans-serif' font-size="4.40" fill="#1a1a1a">int</text>
<text x="31.07" y="471.50" font-family='"Liberation Sans", sans-serif' font-size="7.00" fill="#1a1a1a">:</text>
<text x="46.97" y="471.50" font-family='"Liberation Sans", sans-serif' font-size="7.00" fill="#1a1a1a">140</text>
<text x="68.84" y="471.50" font-family='"Liberation Sans", sans-serif' font-size="7.00" fill="#1a1a1a">45</text>
<text x="86.73" y="471.50" font-family='"Liberation Sans", sans-serif' font-size="7.00" fill="#1a1a1a">38</text>
<text x="105.65" y="471.50" font-family='"Liberation Sans", sans-serif' font-size="7.00" fill="#1a1a1a">27</text>
<text x="123.77" y="471.50" font-family='"Liberation Sans", sans-serif' font-size="7.00" fill="#1a1a1a">15</text>
<text x="141.97" y="471.50" font-family='"Liberation Sans", sans-serif' font-size="7.00" fill="#1a1a1a">11</text>
<text x="161.04" y="471.50" font-family='"Liberation Sans", sans-serif' font-size="7.00" fill="#1a1a1a">4</text>
<text x="181.14" y="471.50" font-family='"Liberation Sans", sans-serif' font-size="7.00" fill="#1a1a1a">4</text>
<text x="199.63" y="471.50" font-family='"Liberation Sans", sans-serif' font-size="7.00" fill="#1a1a1a">3</text>
<text x="217.77" y="471.50" font-family='"Liberation Sans", sans-serif' font-size="7.00" fill="#1a1a1a">1</text>
<text x="236.43" y="471.50" font-family='"Liberation Sans", sans-serif' font-size="7.00" fill="#1a1a1a">0</text>
<text x="20.03" y="483.80" font-family='"Liberation Sans", sans-serif' font-size="7.00" fill="#1a1a1a">PI</text>
<text x="26.59" y="480.00" font-family='"Liberation Sans", sans-serif' font-size="4.40" fill="#1a1a1a">high</text>
<text x="34.48" y="483.80" font-family='"Liberation Sans", sans-serif' font-size="7.00" fill="#1a1a1a">:</text>
<text x="46.97" y="483.80" font-family='"Liberation Sans", sans-serif' font-size="7.00" fill="#1a1a1a">101</text>
<text x="68.47" y="483.80" font-family='"Liberation Sans", sans-serif' font-size="7.00" fill="#1a1a1a">11</text>
<text x="86.64" y="483.80" font-family='"Liberation Sans", sans-serif' font-size="7.00" fill="#1a1a1a">6</text>
<text x="105.73" y="483.80" font-family='"Liberation Sans", sans-serif' font-size="7.00" fill="#1a1a1a">3</text>
<text x="124.03" y="483.80" font-family='"Liberation Sans", sans-serif' font-size="7.00" fill="#1a1a1a">3</text>
<text x="142.15" y="483.80" font-family='"Liberation Sans", sans-serif' font-size="7.00" fill="#1a1a1a">2</text>
<text x="160.67" y="483.80" font-family='"Liberation Sans", sans-serif' font-size="7.00" fill="#1a1a1a">1</text>
<text x="181.03" y="483.80" font-family='"Liberation Sans", sans-serif' font-size="7.00" fill="#1a1a1a">0</text>
<text x="199.63" y="483.80" font-family='"Liberation Sans", sans-serif' font-size="7.00" fill="#1a1a1a">0</text>
<text x="218.03" y="483.80" font-family='"Liberation Sans", sans-serif' font-size="7.00" fill="#1a1a1a">0</text>
<text x="236.43" y="483.80" font-family='"Liberation Sans", sans-serif' font-size="7.00" fill="#1a1a1a">0</text>
<text x="267.49" y="273.20" font-family='"Liberation Sans", sans-serif' font-size="14.70" fill="#1a1a1a" textLength="8.25" lengthAdjust="spacingAndGlyphs" >E</text>
<text x="357.28" y="273.80" font-family='"Liberation Sans", sans-serif' font-size="12.20" fill="#1a1a1a" textLength="87.59" lengthAdjust="spacingAndGlyphs" >Allogeneic HSCT</text>
<g transform="rotate(-90)">
<text x="-380.36" y="277.80" font-family='"Liberation Sans", sans-serif' font-size="11.20" fill="#1a1a1a" textLength="74.46" lengthAdjust="spacingAndGlyphs" >Percent survival</text>
</g>
<line x1="307.80" y1="282.50" x2="307.80" y2="404.15" stroke="#1a1a1a" stroke-width="1.3" />
<line x1="307.15" y1="403.50" x2="495.60" y2="403.50" stroke="#1a1a1a" stroke-width="1.5" />
<line x1="303.60" y1="403.50" x2="307.80" y2="403.50" stroke="#1a1a1a" stroke-width="1.3" />
<text x="295.38" y="406.54" font-family='"Liberation Sans", sans-serif' font-size="8.60" fill="#1a1a1a" textLength="4.54" lengthAdjust="spacingAndGlyphs">0</text>
<line x1="303.60" y1="374.30" x2="307.80" y2="374.30" stroke="#1a1a1a" stroke-width="1.3" />
<text x="290.86" y="377.34" font-family='"Liberation Sans", sans-serif' font-size="8.60" fill="#1a1a1a" textLength="9.09" lengthAdjust="spacingAndGlyphs">25</text>
<line x1="303.60" y1="345.10" x2="307.80" y2="345.10" stroke="#1a1a1a" stroke-width="1.3" />
<text x="290.83" y="348.14" font-family='"Liberation Sans", sans-serif' font-size="8.60" fill="#1a1a1a" textLength="9.09" lengthAdjust="spacingAndGlyphs">50</text>
<line x1="303.60" y1="315.90" x2="307.80" y2="315.90" stroke="#1a1a1a" stroke-width="1.3" />
<text x="290.86" y="318.94" font-family='"Liberation Sans", sans-serif' font-size="8.60" fill="#1a1a1a" textLength="9.09" lengthAdjust="spacingAndGlyphs">75</text>
<line x1="303.60" y1="286.70" x2="307.80" y2="286.70" stroke="#1a1a1a" stroke-width="1.3" />
<text x="286.29" y="289.74" font-family='"Liberation Sans", sans-serif' font-size="8.60" fill="#1a1a1a" textLength="13.63" lengthAdjust="spacingAndGlyphs">100</text>
<line x1="307.80" y1="403.50" x2="307.80" y2="407.70" stroke="#1a1a1a" stroke-width="1.3" />
<text x="305.60" y="419.10" font-family='"Liberation Sans", sans-serif' font-size="8.60" fill="#1a1a1a" textLength="4.40" lengthAdjust="spacingAndGlyphs">0</text>
<line x1="326.19" y1="403.50" x2="326.19" y2="407.70" stroke="#1a1a1a" stroke-width="1.3" />
<text x="323.99" y="419.10" font-family='"Liberation Sans", sans-serif' font-size="8.60" fill="#1a1a1a" textLength="4.40" lengthAdjust="spacingAndGlyphs">2</text>
<line x1="344.58" y1="403.50" x2="344.58" y2="407.70" stroke="#1a1a1a" stroke-width="1.3" />
<text x="342.40" y="419.10" font-family='"Liberation Sans", sans-serif' font-size="8.60" fill="#1a1a1a" textLength="4.40" lengthAdjust="spacingAndGlyphs">4</text>
<line x1="362.97" y1="403.50" x2="362.97" y2="407.70" stroke="#1a1a1a" stroke-width="1.3" />
<text x="360.74" y="419.10" font-family='"Liberation Sans", sans-serif' font-size="8.60" fill="#1a1a1a" textLength="4.40" lengthAdjust="spacingAndGlyphs">6</text>
<line x1="381.36" y1="403.50" x2="381.36" y2="407.70" stroke="#1a1a1a" stroke-width="1.3" />
<text x="379.16" y="419.10" font-family='"Liberation Sans", sans-serif' font-size="8.60" fill="#1a1a1a" textLength="4.40" lengthAdjust="spacingAndGlyphs">8</text>
<line x1="399.75" y1="403.50" x2="399.75" y2="407.70" stroke="#1a1a1a" stroke-width="1.3" />
<text x="395.20" y="419.10" font-family='"Liberation Sans", sans-serif' font-size="8.60" fill="#1a1a1a" textLength="8.80" lengthAdjust="spacingAndGlyphs">10</text>
<line x1="418.14" y1="403.50" x2="418.14" y2="407.70" stroke="#1a1a1a" stroke-width="1.3" />
<text x="413.64" y="419.10" font-family='"Liberation Sans", sans-serif' font-size="8.60" fill="#1a1a1a" textLength="8.80" lengthAdjust="spacingAndGlyphs">12</text>
<line x1="436.53" y1="403.50" x2="436.53" y2="407.70" stroke="#1a1a1a" stroke-width="1.3" />
<text x="431.94" y="419.10" font-family='"Liberation Sans", sans-serif' font-size="8.60" fill="#1a1a1a" textLength="8.80" lengthAdjust="spacingAndGlyphs">14</text>
<line x1="454.92" y1="403.50" x2="454.92" y2="407.70" stroke="#1a1a1a" stroke-width="1.3" />
<text x="450.39" y="419.10" font-family='"Liberation Sans", sans-serif' font-size="8.60" fill="#1a1a1a" textLength="8.80" lengthAdjust="spacingAndGlyphs">16</text>
<line x1="473.31" y1="403.50" x2="473.31" y2="407.70" stroke="#1a1a1a" stroke-width="1.3" />
<text x="468.78" y="419.10" font-family='"Liberation Sans", sans-serif' font-size="8.60" fill="#1a1a1a" textLength="8.80" lengthAdjust="spacingAndGlyphs">18</text>
<line x1="491.70" y1="403.50" x2="491.70" y2="407.70" stroke="#1a1a1a" stroke-width="1.3" />
<text x="487.26" y="419.10" font-family='"Liberation Sans", sans-serif' font-size="8.60" fill="#1a1a1a" textLength="8.80" lengthAdjust="spacingAndGlyphs">20</text>
<text x="336.30" y="435.20" font-family='"Liberation Sans", sans-serif' font-size="11.50" fill="#1a1a1a" textLength="130.15" lengthAdjust="spacingAndGlyphs" >Overall survival time (years)</text>
<line x1="310.00" y1="345.10" x2="492.60" y2="345.10" stroke="#474747" stroke-width="1.4" stroke-dasharray="4.4 2.7"/>
<polyline points="307.80,286.80 311.20,286.80 311.20,286.80 311.20,289.20 312.20,289.20 312.20,292.80 313.00,292.80 313.00,300.00 314.20,300.00 314.20,308.40 315.40,308.40 315.40,313.90 316.60,313.90 316.60,319.30 317.20,319.30 317.20,320.00 318.30,320.00 318.30,326.90 319.50,326.90 320.10,326.90 320.10,335.00 320.70,335.00 320.70,340.80 323.00,340.80 323.50,340.80 323.50,345.40 324.70,345.40 324.70,350.00 325.55,350.00 325.55,352.00 326.40,352.00 326.40,354.00 327.60,354.00 327.60,356.70 333.30,356.70 333.90,356.70 333.90,357.50 338.50,357.50 339.70,357.50 339.70,360.40 352.90,360.40 352.90,360.60 355.80,360.60 355.80,361.50 358.10,361.50 358.10,363.80 360.40,363.80 360.40,365.60 361.60,365.60 361.60,366.70 438.90,366.70" fill="none" stroke="#a6213a" stroke-width="1.2" stroke-linejoin="miter" stroke-linecap="butt"/>
<line x1="364.00" y1="366.70" x2="364.00" y2="364.40" stroke="#a6213a" stroke-width="0.9" />
<line x1="366.50" y1="366.70" x2="366.50" y2="364.40" stroke="#a6213a" stroke-width="0.9" />
<line x1="369.00" y1="366.70" x2="369.00" y2="364.40" stroke="#a6213a" stroke-width="0.9" />
<line x1="372.00" y1="366.70" x2="372.00" y2="364.40" stroke="#a6213a" stroke-width="0.9" />
<line x1="377.00" y1="366.70" x2="377.00" y2="364.40" stroke="#a6213a" stroke-width="0.9" />
<line x1="390.00" y1="366.70" x2="390.00" y2="364.40" stroke="#a6213a" stroke-width="0.9" />
<line x1="400.00" y1="366.70" x2="400.00" y2="364.40" stroke="#a6213a" stroke-width="0.9" />
<line x1="402.00" y1="366.70" x2="402.00" y2="364.40" stroke="#a6213a" stroke-width="0.9" />
<line x1="438.90" y1="366.70" x2="438.90" y2="364.40" stroke="#a6213a" stroke-width="0.9" />
<polyline points="307.80,286.80 310.00,286.80 311.80,286.80 311.80,289.20 313.00,289.20 313.00,295.20 314.20,295.20 314.20,301.20 315.40,301.20 315.40,309.60 316.60,309.60 316.60,315.70 317.80,315.70 317.80,320.50 318.70,320.50 318.70,322.25 319.60,322.25 319.60,324.00 320.50,324.00 320.50,325.85 321.40,325.85 321.40,327.70 322.60,327.70 322.60,332.50 324.40,332.50 324.40,334.90 325.45,334.90 325.45,337.05 326.50,337.05 326.50,339.20 329.60,339.20 329.60,341.50 332.70,341.50 332.70,343.80 333.73,343.80 333.73,344.83 334.77,344.83 334.77,345.87 335.80,345.87 335.80,346.90 338.10,346.90 338.10,349.20 341.90,349.20 341.90,350.00 347.50,350.00 347.50,350.00 347.50,350.80 360.80,350.80 360.80,350.80 360.80,352.50 373.40,352.50 373.40,352.50 373.40,354.80 384.40,354.80 384.40,354.80 384.40,357.20 454.50,357.20" fill="none" stroke="#38578a" stroke-width="1.2" stroke-linejoin="miter" stroke-linecap="butt"/>
<line x1="341.00" y1="350.00" x2="341.00" y2="347.70" stroke="#38578a" stroke-width="0.9" />
<line x1="344.00" y1="350.00" x2="344.00" y2="347.70" stroke="#38578a" stroke-width="0.9" />
<line x1="350.00" y1="350.80" x2="350.00" y2="348.50" stroke="#38578a" stroke-width="0.9" />
<line x1="352.00" y1="350.80" x2="352.00" y2="348.50" stroke="#38578a" stroke-width="0.9" />
<line x1="356.00" y1="350.80" x2="356.00" y2="348.50" stroke="#38578a" stroke-width="0.9" />
<line x1="358.00" y1="350.80" x2="358.00" y2="348.50" stroke="#38578a" stroke-width="0.9" />
<line x1="364.00" y1="352.50" x2="364.00" y2="350.20" stroke="#38578a" stroke-width="0.9" />
<line x1="366.00" y1="352.50" x2="366.00" y2="350.20" stroke="#38578a" stroke-width="0.9" />
<line x1="369.00" y1="352.50" x2="369.00" y2="350.20" stroke="#38578a" stroke-width="0.9" />
<line x1="371.00" y1="352.50" x2="371.00" y2="350.20" stroke="#38578a" stroke-width="0.9" />
<line x1="377.50" y1="354.80" x2="377.50" y2="352.50" stroke="#38578a" stroke-width="0.9" />
<line x1="379.00" y1="354.80" x2="379.00" y2="352.50" stroke="#38578a" stroke-width="0.9" />
<line x1="386.00" y1="357.20" x2="386.00" y2="354.90" stroke="#38578a" stroke-width="0.9" />
<line x1="389.00" y1="357.20" x2="389.00" y2="354.90" stroke="#38578a" stroke-width="0.9" />
<line x1="392.00" y1="357.20" x2="392.00" y2="354.90" stroke="#38578a" stroke-width="0.9" />
<line x1="395.00" y1="357.20" x2="395.00" y2="354.90" stroke="#38578a" stroke-width="0.9" />
<line x1="398.00" y1="357.20" x2="398.00" y2="354.90" stroke="#38578a" stroke-width="0.9" />
<line x1="401.00" y1="357.20" x2="401.00" y2="354.90" stroke="#38578a" stroke-width="0.9" />
<line x1="402.00" y1="357.20" x2="402.00" y2="354.90" stroke="#38578a" stroke-width="0.9" />
<line x1="406.00" y1="357.20" x2="406.00" y2="354.90" stroke="#38578a" stroke-width="0.9" />
<line x1="411.00" y1="357.20" x2="411.00" y2="354.90" stroke="#38578a" stroke-width="0.9" />
<line x1="432.20" y1="357.20" x2="432.20" y2="354.90" stroke="#38578a" stroke-width="0.9" />
<line x1="434.00" y1="357.20" x2="434.00" y2="354.90" stroke="#38578a" stroke-width="0.9" />
<line x1="437.60" y1="357.20" x2="437.60" y2="354.90" stroke="#38578a" stroke-width="0.9" />
<line x1="454.50" y1="357.20" x2="454.50" y2="354.90" stroke="#38578a" stroke-width="0.9" />
<polyline points="307.60,286.80 311.80,286.80 312.40,286.80 312.40,288.60 314.20,288.60 314.20,291.00 315.10,291.00 315.10,292.50 316.00,292.50 316.00,294.00 317.20,294.00 317.20,297.60 318.40,297.60 318.40,303.00 319.60,303.00 319.60,306.00 321.40,306.00 321.40,307.80 322.60,307.80 322.60,310.80 325.00,310.80 325.00,312.60 327.40,312.60 327.40,315.00 329.20,315.00 329.20,317.50 331.00,317.50 331.00,319.30 332.80,319.30 332.80,320.50 334.60,320.50 334.60,322.70 346.30,322.70 346.30,322.70 346.30,324.80 351.00,324.80 351.00,324.80 351.00,329.80 359.00,329.80 359.00,329.80 359.00,331.10 363.60,331.10 363.60,331.10 363.60,332.60 391.00,332.60 391.00,332.60 391.00,335.20 419.70,335.20 419.70,335.20 419.70,342.10 472.30,342.10" fill="none" stroke="#62a248" stroke-width="1.2" stroke-linejoin="miter" stroke-linecap="butt"/>
<line x1="352.70" y1="329.80" x2="352.70" y2="327.50" stroke="#62a248" stroke-width="0.9" />
<line x1="355.00" y1="329.80" x2="355.00" y2="327.50" stroke="#62a248" stroke-width="0.9" />
<line x1="357.50" y1="329.80" x2="357.50" y2="327.50" stroke="#62a248" stroke-width="0.9" />
<line x1="366.00" y1="332.60" x2="366.00" y2="330.30" stroke="#62a248" stroke-width="0.9" />
<line x1="370.00" y1="332.60" x2="370.00" y2="330.30" stroke="#62a248" stroke-width="0.9" />
<line x1="372.00" y1="332.60" x2="372.00" y2="330.30" stroke="#62a248" stroke-width="0.9" />
<line x1="374.00" y1="332.60" x2="374.00" y2="330.30" stroke="#62a248" stroke-width="0.9" />
<line x1="380.40" y1="332.60" x2="380.40" y2="330.30" stroke="#62a248" stroke-width="0.9" />
<line x1="385.60" y1="332.60" x2="385.60" y2="330.30" stroke="#62a248" stroke-width="0.9" />
<line x1="390.70" y1="332.60" x2="390.70" y2="330.30" stroke="#62a248" stroke-width="0.9" />
<line x1="394.80" y1="335.20" x2="394.80" y2="332.90" stroke="#62a248" stroke-width="0.9" />
<line x1="398.00" y1="335.20" x2="398.00" y2="332.90" stroke="#62a248" stroke-width="0.9" />
<line x1="402.00" y1="335.20" x2="402.00" y2="332.90" stroke="#62a248" stroke-width="0.9" />
<line x1="406.00" y1="335.20" x2="406.00" y2="332.90" stroke="#62a248" stroke-width="0.9" />
<line x1="410.00" y1="335.20" x2="410.00" y2="332.90" stroke="#62a248" stroke-width="0.9" />
<line x1="414.00" y1="335.20" x2="414.00" y2="332.90" stroke="#62a248" stroke-width="0.9" />
<line x1="423.00" y1="342.10" x2="423.00" y2="339.80" stroke="#62a248" stroke-width="0.9" />
<line x1="428.00" y1="342.10" x2="428.00" y2="339.80" stroke="#62a248" stroke-width="0.9" />
<line x1="432.00" y1="342.10" x2="432.00" y2="339.80" stroke="#62a248" stroke-width="0.9" />
<line x1="437.00" y1="342.10" x2="437.00" y2="339.80" stroke="#62a248" stroke-width="0.9" />
<line x1="441.00" y1="342.10" x2="441.00" y2="339.80" stroke="#62a248" stroke-width="0.9" />
<line x1="456.40" y1="342.10" x2="456.40" y2="339.80" stroke="#62a248" stroke-width="0.9" />
<line x1="472.30" y1="342.10" x2="472.30" y2="339.80" stroke="#62a248" stroke-width="0.9" />
<text x="452.66" y="338.70" font-family='"Liberation Serif", serif' font-size="7.80" fill="#1a1a1a" textLength="19.50" lengthAdjust="spacingAndGlyphs"  stroke="#1a1a1a" stroke-width="0.1">52.3%</text>
<text x="435.97" y="353.10" font-family='"Liberation Serif", serif' font-size="7.80" fill="#1a1a1a" textLength="17.97" lengthAdjust="spacingAndGlyphs"  stroke="#1a1a1a" stroke-width="0.1">39.8%</text>
<text x="422.16" y="375.80" font-family='"Liberation Serif", serif' font-size="7.80" fill="#1a1a1a" textLength="18.18" lengthAdjust="spacingAndGlyphs"  stroke="#1a1a1a" stroke-width="0.1">31.2%</text>
<text x="318.64" y="398.60" font-family='"Liberation Serif", serif' font-size="7.20" fill="#1a1a1a">X</text>
<text x="323.78" y="394.28" font-family='"Liberation Serif", serif' font-size="5.18" fill="#1a1a1a">2</text>
<text x="326.33" y="398.60" font-family='"Liberation Serif", serif' font-size="7.20" fill="#1a1a1a" textLength="49.38" lengthAdjust="spacingAndGlyphs"  stroke="#1a1a1a" stroke-width="0.1">= 14.9, P=0.0006</text>
<line x1="401.90" y1="289.00" x2="412.80" y2="289.00" stroke="#62a248" stroke-width="1.2" />
<line x1="407.35" y1="289.00" x2="407.35" y2="286.30" stroke="#62a248" stroke-width="0.9" />
<text x="415.75" y="291.60" font-family='"Liberation Sans", sans-serif' font-size="6.70" fill="#1a1a1a">PI</text>
<text x="422.19" y="288.00" font-family='"Liberation Sans", sans-serif' font-size="4.00" fill="#1a1a1a" textLength="5.85" lengthAdjust="spacingAndGlyphs" >low</text>
<text x="429.58" y="291.60" font-family='"Liberation Sans", sans-serif' font-size="6.70" fill="#1a1a1a" textLength="73.64" lengthAdjust="spacingAndGlyphs" >(median OS=Undefined)</text>
<line x1="401.90" y1="300.00" x2="412.80" y2="300.00" stroke="#38578a" stroke-width="1.2" />
<line x1="407.35" y1="300.00" x2="407.35" y2="297.30" stroke="#38578a" stroke-width="0.9" />
<text x="415.75" y="302.50" font-family='"Liberation Sans", sans-serif' font-size="6.70" fill="#1a1a1a">PI</text>
<text x="422.16" y="298.90" font-family='"Liberation Sans", sans-serif' font-size="4.00" fill="#1a1a1a" textLength="4.52" lengthAdjust="spacingAndGlyphs" >int</text>
<text x="427.69" y="302.50" font-family='"Liberation Sans", sans-serif' font-size="6.70" fill="#1a1a1a" textLength="53.92" lengthAdjust="spacingAndGlyphs" >(median OS=2.8y)</text>
<line x1="401.90" y1="310.70" x2="412.80" y2="310.70" stroke="#a6213a" stroke-width="1.2" />
<line x1="407.35" y1="310.70" x2="407.35" y2="308.00" stroke="#a6213a" stroke-width="0.9" />
<text x="415.75" y="313.30" font-family='"Liberation Sans", sans-serif' font-size="6.70" fill="#1a1a1a">PI</text>
<text x="422.14" y="309.70" font-family='"Liberation Sans", sans-serif' font-size="4.00" fill="#1a1a1a" textLength="8.40" lengthAdjust="spacingAndGlyphs" >high</text>
<text x="431.29" y="313.30" font-family='"Liberation Sans", sans-serif' font-size="6.70" fill="#1a1a1a" textLength="58.03" lengthAdjust="spacingAndGlyphs" >(median OS=1.67y)</text>
<text x="267.22" y="447.50" font-family='"Liberation Sans", sans-serif' font-size="7.00" fill="#1a1a1a" textLength="45.77" lengthAdjust="spacingAndGlyphs" >Number at risk</text>
<line x1="267.80" y1="448.20" x2="313.30" y2="448.20" stroke="#333" stroke-width="0.7" />
<text x="275.03" y="459.60" font-family='"Liberation Sans", sans-serif' font-size="7.00" fill="#1a1a1a">PI</text>
<text x="281.60" y="455.80" font-family='"Liberation Sans", sans-serif' font-size="4.40" fill="#1a1a1a">low</text>
<text x="288.07" y="459.60" font-family='"Liberation Sans", sans-serif' font-size="7.00" fill="#1a1a1a">:</text>
<text x="301.84" y="459.60" font-family='"Liberation Sans", sans-serif' font-size="7.00" fill="#1a1a1a">77</text>
<text x="322.22" y="459.60" font-family='"Liberation Sans", sans-serif' font-size="7.00" fill="#1a1a1a">59</text>
<text x="340.52" y="459.60" font-family='"Liberation Sans", sans-serif' font-size="7.00" fill="#1a1a1a">52</text>
<text x="359.34" y="459.60" font-family='"Liberation Sans", sans-serif' font-size="7.00" fill="#1a1a1a">42</text>
<text x="377.53" y="459.60" font-family='"Liberation Sans", sans-serif' font-size="7.00" fill="#1a1a1a">31</text>
<text x="395.45" y="459.60" font-family='"Liberation Sans", sans-serif' font-size="7.00" fill="#1a1a1a">25</text>
<text x="414.27" y="459.60" font-family='"Liberation Sans", sans-serif' font-size="7.00" fill="#1a1a1a">13</text>
<text x="434.22" y="459.60" font-family='"Liberation Sans", sans-serif' font-size="7.00" fill="#1a1a1a">5</text>
<text x="452.75" y="459.60" font-family='"Liberation Sans", sans-serif' font-size="7.00" fill="#1a1a1a">2</text>
<text x="471.07" y="459.60" font-family='"Liberation Sans", sans-serif' font-size="7.00" fill="#1a1a1a">1</text>
<text x="489.53" y="459.60" font-family='"Liberation Sans", sans-serif' font-size="7.00" fill="#1a1a1a">0</text>
<text x="275.03" y="471.50" font-family='"Liberation Sans", sans-serif' font-size="7.00" fill="#1a1a1a">PI</text>
<text x="281.60" y="467.70" font-family='"Liberation Sans", sans-serif' font-size="4.40" fill="#1a1a1a">int</text>
<text x="286.07" y="471.50" font-family='"Liberation Sans", sans-serif' font-size="7.00" fill="#1a1a1a">:</text>
<text x="301.67" y="471.50" font-family='"Liberation Sans", sans-serif' font-size="7.00" fill="#1a1a1a">124</text>
<text x="322.14" y="471.50" font-family='"Liberation Sans", sans-serif' font-size="7.00" fill="#1a1a1a">69</text>
<text x="340.52" y="471.50" font-family='"Liberation Sans", sans-serif' font-size="7.00" fill="#1a1a1a">55</text>
<text x="359.34" y="471.50" font-family='"Liberation Sans", sans-serif' font-size="7.00" fill="#1a1a1a">42</text>
<text x="377.45" y="471.50" font-family='"Liberation Sans", sans-serif' font-size="7.00" fill="#1a1a1a">24</text>
<text x="395.27" y="471.50" font-family='"Liberation Sans", sans-serif' font-size="7.00" fill="#1a1a1a">18</text>
<text x="414.52" y="471.50" font-family='"Liberation Sans", sans-serif' font-size="7.00" fill="#1a1a1a">5</text>
<text x="434.34" y="471.50" font-family='"Liberation Sans", sans-serif' font-size="7.00" fill="#1a1a1a">4</text>
<text x="452.57" y="471.50" font-family='"Liberation Sans", sans-serif' font-size="7.00" fill="#1a1a1a">1</text>
<text x="471.33" y="471.50" font-family='"Liberation Sans", sans-serif' font-size="7.00" fill="#1a1a1a">0</text>
<text x="489.53" y="471.50" font-family='"Liberation Sans", sans-serif' font-size="7.00" fill="#1a1a1a">0</text>
<text x="275.03" y="483.80" font-family='"Liberation Sans", sans-serif' font-size="7.00" fill="#1a1a1a">PI</text>
<text x="281.59" y="480.00" font-family='"Liberation Sans", sans-serif' font-size="4.40" fill="#1a1a1a">high</text>
<text x="289.48" y="483.80" font-family='"Liberation Sans", sans-serif' font-size="7.00" fill="#1a1a1a">:</text>
<text x="301.84" y="483.80" font-family='"Liberation Sans", sans-serif' font-size="7.00" fill="#1a1a1a">75</text>
<text x="322.23" y="483.80" font-family='"Liberation Sans", sans-serif' font-size="7.00" fill="#1a1a1a">34</text>
<text x="340.45" y="483.80" font-family='"Liberation Sans", sans-serif' font-size="7.00" fill="#1a1a1a">27</text>
<text x="358.97" y="483.80" font-family='"Liberation Sans", sans-serif' font-size="7.00" fill="#1a1a1a">18</text>
<text x="377.44" y="483.80" font-family='"Liberation Sans", sans-serif' font-size="7.00" fill="#1a1a1a">6</text>
<text x="395.52" y="483.80" font-family='"Liberation Sans", sans-serif' font-size="7.00" fill="#1a1a1a">5</text>
<text x="414.45" y="483.80" font-family='"Liberation Sans", sans-serif' font-size="7.00" fill="#1a1a1a">2</text>
<text x="434.15" y="483.80" font-family='"Liberation Sans", sans-serif' font-size="7.00" fill="#1a1a1a">2</text>
<text x="452.83" y="483.80" font-family='"Liberation Sans", sans-serif' font-size="7.00" fill="#1a1a1a">0</text>
<text x="471.33" y="483.80" font-family='"Liberation Sans", sans-serif' font-size="7.00" fill="#1a1a1a">0</text>
<text x="489.53" y="483.80" font-family='"Liberation Sans", sans-serif' font-size="7.00" fill="#1a1a1a">0</text>
<rect x="0" y="0" width="520" height="1" fill="#000"/>
<rect x="1" y="1" width="517" height="1" fill="#a0a0a0"/>
<rect x="0" y="0" width="1" height="499" fill="#000"/>
<rect x="1" y="1" width="1" height="496" fill="#5a5a5a"/>
<rect x="518" y="0" width="1" height="498" fill="#444"/>
<rect x="519" y="0" width="1" height="499" fill="#6a6a6a"/>
<rect x="1" y="497" width="518" height="1" fill="#444"/>
<rect x="0" y="498" width="520" height="1" fill="#6a6a6a"/>
</svg></body></html>
